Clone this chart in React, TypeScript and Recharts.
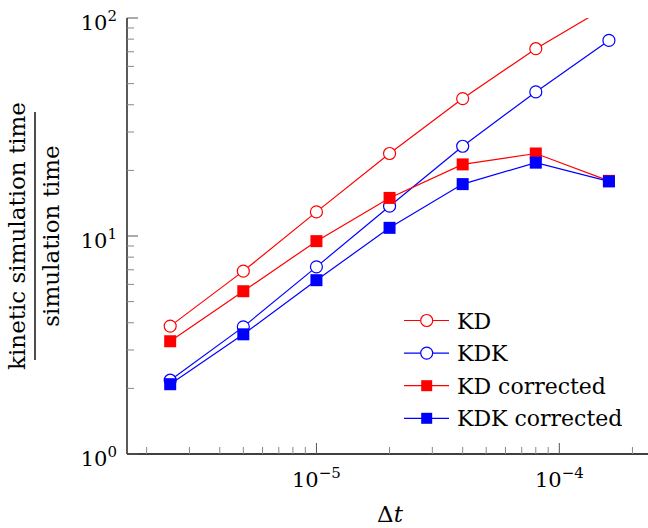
import React from "react";
import { LineChart, Line, XAxis, YAxis, Legend } from "recharts";

// time step (x) and cost ratio (y)
const dt = [2.5e-6, 5e-6, 1e-5, 2e-5, 4e-5, 8e-5, 1.6e-4];
const kd = [3.86, 6.9, 12.9, 23.9, 42.7, 72.3, 114];
const kdk = [2.18, 3.83, 7.22, 13.7, 25.8, 45.8, 78.9];
const kdCorrected = [3.29, 5.58, 9.47, 14.95, 21.3, 23.9, 17.9];
const kdkCorrected = [2.09, 3.54, 6.27, 10.9, 17.3, 21.7, 17.8];

const xTicks = [
  2e-6, 3e-6, 4e-6, 5e-6, 6e-6, 7e-6, 8e-6, 9e-6, 1e-5,
  2e-5, 3e-5, 4e-5, 5e-5, 6e-5, 7e-5, 8e-5, 9e-5, 1e-4, 2e-4,
];
const yTicks = [1, 2, 3, 4, 5, 6, 7, 8, 9, 10, 20, 30, 40, 50, 60, 70, 80, 90, 100];

const RED = "#ff0000";
const BLUE = "#0000ff";
const FONT = "DejaVu Serif";
const serifStyle = { fontFamily: FONT };

const series = [
  { key: "kd", name: "KD", color: RED, marker: "circle" },
  { key: "kdk", name: "KDK", color: BLUE, marker: "circle" },
  { key: "kdCorrected", name: "KD corrected", color: RED, marker: "square" },
  { key: "kdkCorrected", name: "KDK corrected", color: BLUE, marker: "square" },
];

const data = dt.map((t, i) => ({
  dt: t,
  kd: kd[i],
  kdk: kdk[i],
  kdCorrected: kdCorrected[i],
  kdkCorrected: kdkCorrected[i],
}));

const decadeExp = (v: number) => {
  const l = Math.log10(v);
  return Math.abs(l - Math.round(l)) < 1e-9 ? Math.round(l) : null;
};
const expText = (e: number) => (e < 0 ? "\u2212" + Math.abs(e) : String(e));

const XTick = (props: any) => {
  const { x, y, payload } = props;
  const e = decadeExp(payload.value);
  return (
    <g>
      <line
        x1={x}
        x2={x}
        y1={y}
        y2={y - (e !== null ? 11 : 7)}
        stroke={e !== null ? "#555" : "#888"}
        strokeWidth={1}
      />
      {e !== null && (
        <text x={x} y={y + 33} textAnchor="middle" fontSize={21} style={serifStyle} fill="#000">
          10
          <tspan dy={-9} fontSize={15}>
            {expText(e)}
          </tspan>
        </text>
      )}
    </g>
  );
};

const YTick = (props: any) => {
  const { x, y, payload } = props;
  const e = decadeExp(payload.value);
  return (
    <g>
      <line
        x1={x}
        x2={x + (e !== null ? 11 : 7)}
        y1={y}
        y2={y}
        stroke={e !== null ? "#555" : "#888"}
        strokeWidth={1}
      />
      {e !== null && (
        <text x={x - 10} y={y + 12} textAnchor="end" fontSize={21} style={serifStyle} fill="#000">
          10
          <tspan dy={-9} fontSize={15}>
            {expText(e)}
          </tspan>
        </text>
      )}
    </g>
  );
};

const XTitle = (props: any) => {
  const vb = props.viewBox;
  return (
    <text x={vb.x + vb.width / 2} y={vb.y + 68} textAnchor="middle" fontSize={23} style={serifStyle} fill="#000">
      Δ<tspan fontStyle="italic">t</tspan>
    </text>
  );
};

const YTitle = (props: any) => {
  const vb = props.viewBox;
  const cy = vb.y + vb.height / 2;
  return (
    <g style={serifStyle} fontSize={23} fill="#000">
      <text transform={`translate(25, ${cy}) rotate(-90)`} textAnchor="middle">
        kinetic simulation time
      </text>
      <line x1={35} x2={35} y1={cy - 124} y2={cy + 124} stroke="#000" strokeWidth={1.4} />
      <text transform={`translate(59, ${cy}) rotate(-90)`} textAnchor="middle">
        simulation time
      </text>
    </g>
  );
};

const Square = (props: any) => {
  const { cx, cy, stroke, index, dataKey } = props;
  if (cx == null || cy == null) return <g key={`${dataKey}-${index}`} />;
  return <rect key={`${dataKey}-${index}`} x={cx - 6} y={cy - 6} width={12} height={12} fill={stroke} />;
};

const LegendBox = () => (
  <svg width={248} height={140} style={{ display: "block" }}>
    {series.map((s, i) => {
      const cy = 20.5 + i * 32.6;
      return (
        <g key={s.key}>
          <line x1={4} x2={49} y1={cy} y2={cy} stroke={s.color} strokeWidth={1.2} />
          {s.marker === "circle" ? (
            <circle cx={26.7} cy={cy} r={6} fill="#fff" stroke={s.color} strokeWidth={1.2} />
          ) : (
            <rect x={21.2} y={cy - 5.5} width={11} height={11} fill={s.color} />
          )}
          <text x={57} y={cy + 8} fontSize={22} style={serifStyle} fill="#000">
            {s.name}
          </text>
        </g>
      );
    })}
  </svg>
);

export default function App() {
  return (
    <div
      style={{
        position: "absolute",
        left: 0,
        top: 0,
        width: 648,
        height: 528,
        overflow: "hidden",
        background: "#fff",
        fontFamily: FONT,
      }}
    >
      <LineChart width={660} height={528} data={data} margin={{ top: 18, right: 7, left: 0, bottom: 0 }}>
        <XAxis
          dataKey="dt"
          type="number"
          scale="log"
          domain={[1.66e-6, 2.43e-4]}
          allowDataOverflow
          ticks={xTicks}
          interval={0}
          height={74}
          tickSize={0}
          tickMargin={0}
          tickLine={false}
          tick={<XTick />}
          axisLine={{ stroke: "#000", strokeWidth: 1.3 }}
          label={<XTitle />}
        />
        <YAxis
          type="number"
          scale="log"
          domain={[1, 100]}
          allowDataOverflow
          ticks={yTicks}
          interval={0}
          width={127}
          tickSize={0}
          tickMargin={0}
          tickLine={false}
          tick={<YTick />}
          axisLine={{ stroke: "#000", strokeWidth: 1.3 }}
          label={<YTitle />}
        />
        <Legend
          layout="vertical"
          align="center"
          verticalAlign="middle"
          wrapperStyle={{ left: 400, top: 300, width: 248, height: 140 }}
          content={() => <LegendBox />}
        />
        {series.map((s) => (
          <Line
            key={s.key}
            dataKey={s.key}
            type="linear"
            stroke={s.color}
            strokeWidth={1.2}
            isAnimationActive={false}
            activeDot={false}
            dot={
              s.marker === "circle"
                ? { r: 6, fill: "#fff", stroke: s.color, strokeWidth: 1.2 }
                : (p: any) => <Square {...p} stroke={s.color} />
            }
          />
        ))}
      </LineChart>
    </div>
  );
}
